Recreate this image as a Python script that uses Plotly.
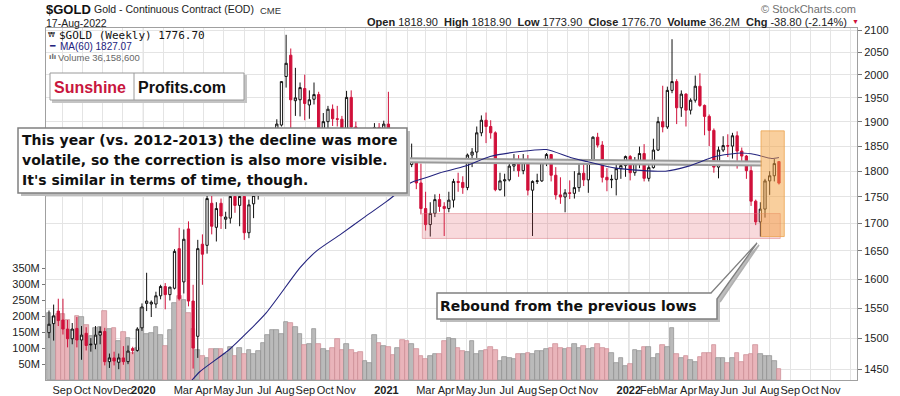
import math
import pandas as pd
import plotly.graph_objects as go

# ---------------- data ----------------
weeks = pd.date_range('2019-08-12', periods=158, freq='7D')

opens = [1509,1524,1545,1530,1515,1499,1516,1497,1508,1489,1490,1505,1511,1462,1468,1461,1468,1462,1483,1480,
         1517,1558,1557,1557,1571,1587,1573,1584,1654,1595,1690,1562,1503,1662,1660,1738,1693,1738,1708,1710,
         1751,1734,1751,1683,1737,1753,1781,1790,1801,1810,1893,1996,2043,1944,1946,1970,1935,1947,1957,1866,
         1900,1926,1906,1905,1879,1951,1889,1872,1788,1840,1843,1888,1883,1895,1850,1830,1856,1850,1813,1823,
         1777,1728,1698,1719,1745,1732,1728,1744,1780,1778,1768,1832,1838,1877,1903,1890,1877,1764,1781,1783,
         1810,1815,1801,1817,1763,1780,1781,1817,1833,1792,1754,1750,1758,1757,1768,1796,1783,1818,1868,1852,
         1788,1783,1784,1805,1811,1829,1797,1818,1835,1786,1807,1842,1900,1889,1966,1985,1929,1958,1924,1945,
         1975,1934,1911,1882,1808,1842,1851,1850,1871,1840,1830,1801,1742,1703,1727,1781,1791,1818.9]
highs = [1546,1556,1566,1566,1530,1525,1535,1520,1518,1500,1520,1519,1517,1475,1478,1475,1487,1488,1486,1518,
         1558,1611,1563,1578,1590,1593,1586,1653,1692,1689,1704,1590,1670,1680,1760,1788,1740,1747,1722,1756,
         1775,1760,1760,1745,1756,1788,1795,1820,1829,1905,1985,2089,2058,2015,1983,2000,1966,1983,1963,1918,
         1933,1936,1933,1912,1965,1966,1900,1880,1847,1877,1897,1897,1902,1963,1880,1875,1875,1875,1855,1825,
         1815,1760,1740,1755,1756,1740,1760,1785,1797,1790,1835,1846,1890,1913,1919,1903,1880,1797,1795,1818,
         1834,1832,1834,1832,1782,1795,1823,1836,1834,1808,1788,1765,1782,1800,1815,1815,1820,1870,1877,1860,
         1806,1793,1815,1817,1831,1832,1828,1849,1854,1812,1865,1910,1976,1974,2079,1990,1966,1960,1949,1998,
         2003,1936,1915,1886,1849,1870,1874,1877,1880,1847,1832,1812,1745,1740,1785,1800,1824,1818.9]
lows = [1500,1496,1520,1506,1485,1490,1485,1465,1480,1478,1482,1490,1456,1452,1456,1450,1457,1458,1474,1478,
        1512,1545,1535,1550,1565,1548,1563,1582,1563,1575,1553,1451,1468,1590,1645,1680,1667,1690,1690,1700,
        1720,1695,1670,1673,1710,1745,1760,1775,1795,1805,1890,1972,1874,1912,1911,1903,1906,1936,1851,1862,
        1873,1891,1890,1860,1877,1851,1860,1775,1765,1820,1830,1861,1867,1837,1809,1825,1830,1785,1808,1765,
        1717,1687,1676,1712,1722,1677,1721,1730,1760,1756,1763,1808,1822,1870,1856,1865,1761,1762,1751,1780,
        1800,1789,1794,1753,1677,1775,1779,1810,1780,1745,1737,1721,1746,1747,1760,1771,1758,1815,1847,1778,
        1761,1767,1753,1785,1789,1782,1791,1806,1780,1780,1805,1840,1878,1885,1960,1895,1910,1890,1915,1940,
        1931,1872,1850,1797,1786,1838,1828,1825,1805,1820,1785,1733,1697,1676,1711,1754,1780,1773.9]
closes = [1523,1537,1529,1515,1499,1515,1497,1505,1488,1490,1505,1511,1462,1468,1463,1468,1462,1479,1480,1515,
          1552,1562,1560,1571,1587,1573,1586,1649,1566,1671,1562,1484,1654,1644,1747,1695,1728,1714,1712,1751,
          1734,1751,1683,1735,1753,1781,1790,1801,1810,1895,1985,2025,1946,1950,1972,1938,1946,1957,1866,1900,
          1926,1906,1905,1879,1951,1889,1872,1788,1840,1843,1888,1883,1895,1850,1830,1856,1850,1813,1823,1777,
          1728,1698,1719,1745,1732,1728,1744,1780,1778,1768,1832,1838,1877,1903,1890,1877,1764,1781,1783,1810,
          1815,1801,1817,1763,1780,1781,1817,1833,1792,1754,1750,1758,1757,1768,1796,1783,1818,1868,1852,1788,
          1783,1784,1805,1811,1829,1797,1818,1835,1786,1807,1842,1900,1889,1966,1985,1929,1958,1924,1945,1975,
          1934,1911,1882,1808,1842,1851,1850,1871,1840,1830,1801,1742,1703,1727,1781,1791,1815,1776.7]
volumes_m = [210,198,206,206,188,156,200,197,172,138,161,166,216,158,161,122,151,132,85,101,
             226,143,148,166,141,106,155,242,262,250,210,160,95,75,70,96,96,96,80,103,
             75,99,80,95,80,91,117,140,156,
             155,145,181,177,166,143,109,111,158,111,96,91,99,127,93,111,93,85,88,59,
             54,140,117,106,103,78,101,124,122,111,96,75,65,75,80,80,122,132,127,101,
             91,88,122,82,91,93,103,93,59,72,70,65,82,80,85,82,91,91,96,101,
             111,101,96,99,111,100,105,
             96,99,111,99,96,85,54,70,44,49,93,91,104,103,70,80,108,103,164,80,
             70,75,61,57,72,85,85,108,70,70,54,68,85,57,78,80,108,82,75,75,59,33]

ma_dates = ['2020-03-08','2020-03-26','2020-05-10','2020-07-04','2020-08-24','2020-09-18','2020-10-24',
            '2020-11-28','2021-01-02','2021-02-06','2021-03-01','2021-03-23','2021-04-30','2021-06-06',
            '2021-07-21','2021-08-30','2021-10-05','2021-10-30','2021-12-12','2022-02-25','2022-04-01',
            '2022-05-11','2022-06-20','2022-07-10','2022-08-04','2022-08-15']
ma_values = [1425,1446,1482,1542,1620,1650,1680,1711,1742,1777,1787,1797,1810,1829,
             1839,1843,1827,1819,1806,1800,1810,1829,1836,1833,1825,1827]

support_dates = ['2021-02-24', '2022-08-17']
support_prices = [1672.5, 1718.6]
rebound_dates = ['2022-07-19', '2022-08-23']
rebound_prices = [1676, 1881]
resist_dates = ['2021-01-30', '2022-07-20']
resist_prices = [1821.5, 1815]

price_ticks = [1450,1500,1550,1600,1650,1700,1750,1800,1850,1900,1950,2000,2050,2100]
volume_ticks_m = [50,100,150,200,250,300,350]
month_ticks = ['2019-09-01','2019-10-01','2019-11-01','2019-12-01','2020-01-01','2020-02-01','2020-03-01',
               '2020-04-01','2020-05-01','2020-06-01','2020-07-01','2020-08-01','2020-09-01','2020-10-01',
               '2020-11-01','2020-12-01','2021-01-01','2021-02-01','2021-03-01','2021-04-01','2021-05-01',
               '2021-06-01','2021-07-01','2021-08-01','2021-09-01','2021-10-01','2021-11-01','2021-12-01',
               '2022-01-01','2022-02-01','2022-03-01','2022-04-01','2022-05-01','2022-06-01','2022-07-01',
               '2022-08-01','2022-09-01','2022-10-01','2022-11-01','2022-12-01']
month_labels = ['Sep','Oct','Nov','Dec','<b>2020</b>','','Mar','Apr','May','Jun','Jul','Aug','Sep','Oct',
                'Nov','','<b>2021</b>','','Mar','Apr','May','Jun','Jul','Aug','Sep','Oct','Nov','',
                '<b>2022</b>','Feb','Mar','Apr','May','Jun','Jul','Aug','Sep','Oct','Nov','']
year_lines = ['2020-01-01', '2021-01-01', '2022-01-01']

# ---------------- geometry helpers ----------------
L, R, T, B = 46, 857, 28, 380
def PX(x): return (x - L) / (R - L)
def PY(y): return (B - y) / (B - T)

RED = '#d0103a'
ARIAL = 'Liberation Sans, Arial, sans-serif'
DEJAVU = 'DejaVu Sans, Verdana, sans-serif'

fig = go.Figure()

# volume bars (left axis)
vol_fill = ['#e9b4ba' if c < o else '#bababa' for o, c in zip(opens, closes)]
vol_edge = ['#c98a92' if c < o else '#8c8c8c' for o, c in zip(opens, closes)]
fig.add_trace(go.Bar(x=weeks, y=[v * 1e6 for v in volumes_m], yaxis='y',
                     marker=dict(color=vol_fill, line=dict(color=vol_edge, width=0.7)),
                     hoverinfo='skip', showlegend=False))

# support zone (behind candles)
fig.add_trace(go.Scatter(
    x=[support_dates[0], support_dates[1], support_dates[1], support_dates[0], support_dates[0]],
    y=[support_prices[0], support_prices[0], support_prices[1], support_prices[1], support_prices[0]],
    yaxis='y2', mode='lines', fill='toself', fillcolor='rgba(222,80,95,0.22)',
    line=dict(color='rgba(215,110,120,0.45)', width=1), hoverinfo='skip', showlegend=False))

# candles
fig.add_trace(go.Candlestick(
    x=weeks, open=opens, high=highs, low=lows, close=closes, yaxis='y2',
    increasing=dict(line=dict(color='#111111', width=1), fillcolor='white'),
    decreasing=dict(line=dict(color=RED, width=1), fillcolor=RED),
    whiskerwidth=0, showlegend=False, hoverinfo='skip'))

# resistance double line
fig.add_trace(go.Scatter(x=resist_dates, y=resist_prices, yaxis='y2', mode='lines',
                         line=dict(color='#9a9a9a', width=6), hoverinfo='skip', showlegend=False))
fig.add_trace(go.Scatter(x=resist_dates, y=resist_prices, yaxis='y2', mode='lines',
                         line=dict(color='#e6e6e6', width=2), hoverinfo='skip', showlegend=False))

# MA(60)
fig.add_trace(go.Scatter(x=ma_dates, y=ma_values, yaxis='y2', mode='lines',
                         line=dict(color='#23237e', width=1.1, shape='spline', smoothing=0.6),
                         hoverinfo='skip', showlegend=False))

# rebound zone (over candles, translucent)
fig.add_trace(go.Scatter(
    x=[rebound_dates[0], rebound_dates[1], rebound_dates[1], rebound_dates[0], rebound_dates[0]],
    y=[rebound_prices[0], rebound_prices[0], rebound_prices[1], rebound_prices[1], rebound_prices[0]],
    yaxis='y2', mode='lines', fill='toself', fillcolor='rgba(243,160,60,0.5)',
    line=dict(color='rgba(235,165,80,0.8)', width=1), hoverinfo='skip', showlegend=False))

shapes = []
for d in year_lines:
    shapes.append(dict(type='line', xref='x', yref='paper', x0=d, x1=d, y0=0, y1=1,
                       line=dict(color='#bdbdbd', width=1), layer='below'))

def rect(x0, y0, x1, y1, fill, line_color=None, lw=0):
    return dict(type='rect', xref='paper', yref='paper', x0=PX(x0), x1=PX(x1), y0=PY(y1), y1=PY(y0),
                fillcolor=fill, line=dict(color=line_color or fill, width=lw), layer='above')

# logo box
shapes.append(rect(52, 75, 247, 103, '#c4c4c4'))
shapes.append(rect(50, 73, 244, 100, 'white', '#9a9a9a', 1))
shapes.append(dict(type='line', xref='paper', yref='paper', x0=PX(134), x1=PX(134), y0=PY(73), y1=PY(100),
                   line=dict(color='#9a9a9a', width=1), layer='above'))
# callout 1
shapes.append(rect(21, 131, 410, 196, '#bdbdbd'))
shapes.append(rect(18, 128, 407, 193, 'white', '#808080', 1.5))
# callout 2 with tail
shapes.append(rect(440, 296, 720, 322, '#bdbdbd'))
def path(pts):
    return 'M ' + ' L '.join(f'{PX(x):.5f},{PY(y):.5f}' for x, y in pts)
shapes.append(dict(type='path', xref='paper', yref='paper', path=path([(713, 296), (759, 245), (720, 302)]),
                   fillcolor='#bdbdbd', line=dict(color='#b0b0b0', width=1.5), layer='above'))
shapes.append(rect(437, 293, 717, 319, 'white', '#808080', 1.5))
shapes.append(dict(type='path', xref='paper', yref='paper', path=path([(711, 293), (757, 243), (717, 299)]),
                   fillcolor='white', line=dict(color='#808080', width=1.3), layer='above'))

ann = []
def text(x, y, s, size, color='#111', family=ARIAL, xanchor='left', bold=False):
    ann.append(dict(xref='paper', yref='paper', x=PX(x), y=PY(y), text=(f'<b>{s}</b>' if bold else s),
                    showarrow=False, xanchor=xanchor, yanchor='middle',
                    font=dict(size=size, color=color, family=family), borderpad=0))

# header
text(45, 9, '$GOLD', 13, '#111', bold=True)
text(93, 9, 'Gold - Continuous Contract (EOD)', 10.5, '#222')
text(259, 10, 'CME', 9.5, '#333')
text(45, 23, '17-Aug-2022', 10.5, '#222')
sp = '&nbsp;'
hdr = (f'<b>Open</b> 1818.90{sp}{sp}<b>High</b> 1818.90{sp}{sp}<b>Low</b> 1773.90{sp}{sp}'
       f'<b>Close</b> 1776.70{sp}{sp}<b>Volume</b> 36.2M{sp}{sp}<b>Chg</b> -38.80 (-2.14%)')
text(848, 22, hdr, 11, '#222', xanchor='right')
text(851, 22, '▼', 7, RED)
text(857, 9, '© StockCharts.com', 11, '#707070', xanchor='right')

# in-plot legend
text(47, 35, '₩', 7, '#111', family='DejaVu Sans')
text(58, 35, '$GOLD (Weekly) 1776.70', 11, '#111', family='DejaVu Sans Mono, Liberation Mono, monospace')
text(48, 46, '━', 9, '#23237e', family='DejaVu Sans')
text(59, 46, 'MA(60) 1827.07', 10, '#23237e')
text(48, 57, 'ılı', 7, '#666', family='DejaVu Sans', bold=True)
text(57, 57, 'Volume 36,158,600', 9.5, '#666')

# logo
text(53, 87, 'Sunshine', 16, '#c8163e', bold=True)
text(137, 87, 'Profits.com', 16, '#111', bold=True)

# callouts
text(21, 140, 'This year (vs. 2012-2013) the decline was more', 14, '#111', DEJAVU, bold=True)
text(21, 160, 'volatile, so the correction is also more visible.', 14, '#111', DEJAVU, bold=True)
text(21, 180, "It's similar in terms of time, though.", 14, '#111', DEJAVU, bold=True)
text(439, 306, 'Rebound from the previous lows', 14, '#111', DEJAVU, bold=True)

fig.update_layout(
    width=900, height=396, margin=dict(l=L, r=900 - R, t=T, b=396 - B, autoexpand=False),
    paper_bgcolor='white', plot_bgcolor='white', showlegend=False, bargap=0,
    font=dict(family=ARIAL, size=11, color='#222'),
    xaxis=dict(type='date', range=['2019-08-07 12:00', '2022-12-10 12:00'], automargin=False,
               tickvals=month_ticks, ticktext=month_labels, tickangle=0,
               showgrid=True, gridcolor='#e4e4e4', gridwidth=1, ticks='',
               showline=True, mirror=True, linecolor='#a0a0a0', linewidth=1,
               tickfont=dict(size=11, color='#222'), rangeslider=dict(visible=False), fixedrange=True),
    yaxis=dict(range=[0, 1.1e9], side='left', automargin=False, tickvals=[v * 1e6 for v in volume_ticks_m],
               ticktext=[f'{v}M' for v in volume_ticks_m], showgrid=False, zeroline=False,
               ticks='outside', ticklen=3, tickcolor='#777', showline=True, linecolor='#a0a0a0',
               tickfont=dict(size=11, color='#222')),
    yaxis2=dict(type='log', overlaying='y', side='right', automargin=False,
                range=[math.log10(1433.0), math.log10(2104.6)],
                tickvals=price_ticks, ticktext=[str(p) for p in price_ticks],
                showgrid=True, gridcolor='#e4e4e4', zeroline=False,
                ticks='outside', ticklen=4, tickcolor='#777', showline=True, linecolor='#a0a0a0',
                tickfont=dict(size=11, color='#222')),
    shapes=shapes, annotations=ann,
)

fig.write_html('out.html', config={'displayModeBar': False},
               post_script="document.body.style.margin='0px';document.body.style.overflow='hidden';")
